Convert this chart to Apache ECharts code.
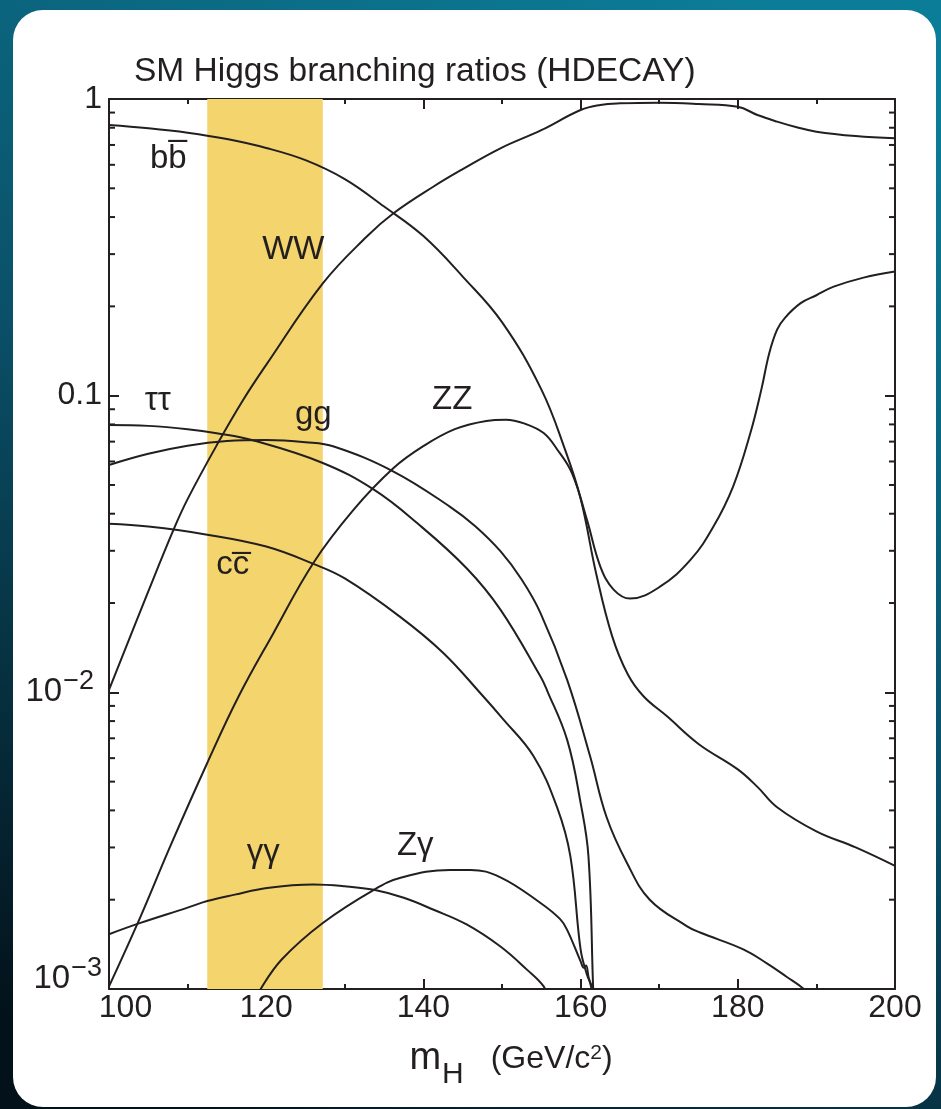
<!DOCTYPE html>
<html>
<head>
<meta charset="utf-8">
<script src="https://cdn.jsdelivr.net/npm/echarts@6/dist/echarts.min.js"></script>
<style>
html,body{margin:0;padding:0;background:#0a4f66;}
#chart{width:941px;height:1109px;}
</style>
</head>
<body>
<div id="chart"></div>
<script>
// ---- axis ranges & ticks ----
const xMin = 100, xMax = 200, xInterval = 20;
const yMin = 0.001, yMax = 1;
const yMinorTicks = [0.002,0.003,0.004,0.005,0.006,0.007,0.008,0.009,
                     0.02,0.03,0.04,0.05,0.06,0.07,0.08,0.09,
                     0.2,0.3,0.4,0.5,0.6,0.7,0.8,0.9];
// ---- highlighted mass window (yellow band) ----
const bandRange = [112.5, 127.2];

// ---- branching ratios [m_H (GeV), BR] ----
const bbData = [[100,0.817],[105,0.797],[110,0.770],[115,0.733],[120,0.684],[125,0.622],[130,0.537],[135,0.434],[140,0.345],[145,0.252],[150,0.177],[155,0.105],[158,0.066],[160,0.045],[162,0.025],[164,0.0155],[166,0.0115],[168,0.0097],[171,0.0083],[175,0.0067],[180,0.0055],[182.5,0.0048],[185,0.0041],[190,0.0034],[195,0.003],[200,0.0026]];
const wwData = [[100,0.0102],[105,0.0219],[108.2,0.0353],[110,0.0448],[113.7,0.068],[117.1,0.097],[120,0.127],[127.2,0.239],[132.8,0.344],[136.2,0.412],[141.3,0.507],[145,0.58],[149.8,0.682],[155,0.785],[160,0.918],[162.5,0.955],[165,0.967],[170,0.972],[175,0.962],[180,0.942],[182.5,0.883],[185,0.839],[187.5,0.803],[190,0.776],[195,0.75],[200,0.737]];
const zzData = [[100,0.00102],[104,0.00175],[107.8,0.00303],[112.5,0.00578],[116.5,0.0097],[120.9,0.0158],[126,0.0273],[131.1,0.0412],[136.2,0.057],[140,0.0676],[144,0.0771],[148,0.0822],[150.5,0.083],[153,0.0803],[155.3,0.0748],[157,0.066],[158.9,0.0548],[160.8,0.0382],[162.5,0.0266],[164.2,0.0222],[166.3,0.0207],[170.1,0.0227],[174,0.028],[176.9,0.0362],[179.4,0.0494],[181.6,0.0748],[183,0.105],[184,0.139],[185,0.167],[186,0.183],[188,0.205],[190,0.218],[192.2,0.233],[196,0.25],[200,0.262]];
const tautauData = [[100,0.0797],[105,0.0791],[110,0.0771],[113.7,0.0747],[118.4,0.0706],[127.2,0.0593],[133.7,0.0482],[139.2,0.0372],[145.5,0.0262],[149.8,0.019],[154.9,0.0113],[155.7,0.0102],[158.3,0.0069],[160,0.00424],[161,0.0028],[161.6,0.001],[161.7,0.0009]];
const ggData = [[100,0.0584],[105,0.0637],[110,0.0678],[115,0.0703],[120,0.0709],[125,0.0697],[128.6,0.0674],[136.2,0.0555],[143.4,0.0422],[146.6,0.0363],[149.8,0.0299],[152.5,0.024],[154.9,0.0185],[158.3,0.011],[161.2,0.0061],[163.3,0.0038],[165.9,0.00266],[168.8,0.002],[173.5,0.00163],[175.2,0.00155],[180.7,0.00136],[183.7,0.00122],[186.2,0.0011],[188.4,0.001],[189,0.00095]];
const ccData = [[100,0.037],[105,0.0362],[112.5,0.034],[120,0.031],[126,0.0271],[130,0.0242],[137,0.018],[142.5,0.0136],[147.6,0.0097],[150,0.0082],[154,0.0061],[157,0.0041],[158.7,0.0028],[160,0.00136],[160.8,0.00112],[161.5,0.001],[161.6,0.0009]];
const zgammaData = [[119.1,0.00095],[119.3,0.001],[122,0.00126],[127.2,0.00167],[133.7,0.00216],[137.1,0.00237],[143.4,0.00252],[146,0.00252],[149.8,0.00238],[154.9,0.00195],[157.4,0.00172],[158.3,0.00158],[160,0.00124],[160.4,0.00118],[160.7,0.0012],[161,0.0011],[161.4,0.001],[161.5,0.00095]];
const gammagammaData = [[100,0.00153],[104,0.00167],[110,0.00188],[112.5,0.00198],[116,0.00208],[120.1,0.00219],[126,0.00225],[130,0.00222],[133.7,0.00216],[137.5,0.00203],[141.3,0.00185],[145.5,0.00165],[149.8,0.00139],[153.2,0.00116],[155.3,0.00102],[155.6,0.00095]];

// ---- channel labels: text, mass, BR position ----
const labelTexts = ['b' + 'b\u0305', 'WW', '\u03c4\u03c4', 'gg', 'ZZ', 'c' + 'c\u0305', '\u03b3\u03b3', 'Z\u03b3'];
const labelMass  = [107.55, 123.45, 106.2, 126.0, 143.66, 115.76, 119.63, 138.96];
const labelBR    = [0.630, 0.309, 0.0957, 0.0858, 0.0964, 0.0268, 0.00287, 0.00303];

const titleText = 'SM Higgs branching ratios (HDECAY)';

const FONT = "'Liberation Sans', 'DejaVu Sans', sans-serif";
const INK = '#231f20';

const curves = [bbData, wwData, zzData, tautauData, ggData, ccData, zgammaData, gammagammaData];
const curveNames = ['bb', 'WW', 'ZZ', 'tautau', 'gg', 'cc', 'Zgamma', 'gammagamma'];

const chart = echarts.init(document.getElementById('chart'), null, {renderer: 'canvas'});

const axisLineStyle = {lineStyle: {color: INK, width: 2}};

const series = [];
// band
series.push({
  type: 'line', data: [], z: 1, silent: true,
  markArea: {silent: true, itemStyle: {color: '#f4d46c'}, data: [[{xAxis: bandRange[0]}, {xAxis: bandRange[1]}]]}
});
curves.forEach((d, i) => {
  series.push({
    name: curveNames[i], type: 'line', data: d, showSymbol: false, symbol: 'none',
    smooth: 0.4, clip: true, z: 3,
    lineStyle: {color: INK, width: 2}
  });
});
// minor ticks on log axes (left & right), through the scales
series.push({
  type: 'custom', z: 4, silent: true, clip: false,
  data: yMinorTicks.map(v => [xMin, v]),
  renderItem: function (params, api) {
    const v = api.value(1);
    const p = api.coord([xMin, v]);
    const q = api.coord([xMax, v]);
    return {type: 'group', children: [
      {type: 'line', shape: {x1: p[0], y1: p[1], x2: p[0] + 6, y2: p[1]}, style: {stroke: INK, lineWidth: 2}},
      {type: 'line', shape: {x1: q[0] - 6, y1: q[1], x2: q[0], y2: q[1]}, style: {stroke: INK, lineWidth: 2}}
    ]};
  }
});
// labels
series.push({
  type: 'scatter', z: 5, silent: true, symbolSize: 0,
  itemStyle: {opacity: 1},
  data: labelTexts.map((t, i) => ({value: [labelMass[i], labelBR[i]], name: t})),
  label: {show: true, position: 'inside', formatter: p => p.name, color: INK, opacity: 1,
    fontSize: 33, fontFamily: FONT, align: 'center', verticalAlign: 'middle'}
});

function yLabel(v) {
  const e = Math.round(Math.log10(v));
  if (e === 0) return '1';
  if (e === -1) return '0.1';
  if (e === -2) return '{a|10}{s|\u22122}';
  return '{a3|10}{s3|\u22123}';
}

const option = {
  backgroundColor: {type: 'linear', x: 0.8, y: 0, x2: 0.2, y2: 1,
    colorStops: [{offset: 0, color: '#0c7d98'}, {offset: 0.5, color: '#0a5068'}, {offset: 1, color: '#03121a'}]},
  animation: false,
  graphic: [{type: 'rect', z: -10, silent: true, shape: {x: 13, y: 10, width: 923, height: 1097, r: 30}, style: {fill: '#ffffff'}}],
  title: {text: titleText, left: 129, top: 50,
    textStyle: {fontFamily: FONT, fontSize: 33.5, fontWeight: 'normal', color: INK}},
  grid: {left: 109, right: 46, top: 99, bottom: 120},
  xAxis: [{
    type: 'value', position: 'bottom', min: xMin, max: xMax, interval: xInterval,
    axisLine: axisLineStyle, splitLine: {show: false},
    axisTick: {inside: true, length: 10, lineStyle: {color: INK, width: 2}},
    minorTick: {show: true, splitNumber: 2, length: 5, lineStyle: {color: INK, width: 2}},
    axisLabel: {margin: 3, color: INK, fontFamily: FONT, fontSize: 32,
      formatter: v => v === xMin ? '{f|' + v + '}' : String(v),
      rich: {f: {fontFamily: FONT, fontSize: 32, color: INK, padding: [0, 0, 0, 33]}}},
    name: '{m|m}{h|H}{p|(GeV/c}{u|2}{p|)}', nameLocation: 'middle', nameGap: 39,
    nameTextStyle: {fontFamily: FONT, color: INK, padding: [0, 0, 0, 18],
      rich: {
        m: {fontFamily: FONT, fontSize: 38, color: INK},
        h: {fontFamily: FONT, fontSize: 30, color: INK, padding: [32, 27, 0, 1]},
        p: {fontFamily: FONT, fontSize: 32, color: INK},
        u: {fontFamily: FONT, fontSize: 21, color: INK, padding: [0, 0, 12, 0]}
      }}
  }, {
    type: 'value', position: 'top', min: xMin, max: xMax, interval: xInterval,
    axisLine: axisLineStyle, splitLine: {show: false}, axisLabel: {show: false},
    axisTick: {inside: true, length: 10, lineStyle: {color: INK, width: 2}},
    minorTick: {show: true, splitNumber: 2, length: 5, lineStyle: {color: INK, width: 2}}
  }],
  yAxis: [{
    type: 'log', logBase: 10, min: yMin, max: yMax, position: 'left',
    axisLine: axisLineStyle, splitLine: {show: false},
    axisTick: {inside: true, length: 10, lineStyle: {color: INK, width: 2}},
    axisLabel: {margin: 7, color: INK, fontFamily: FONT, fontSize: 32, formatter: yLabel,
      rich: {
        a: {fontFamily: FONT, fontSize: 33, color: INK},
        s: {fontFamily: FONT, fontSize: 27, color: INK, padding: [0, 8, 22, 1]},
        a3: {fontFamily: FONT, fontSize: 33, color: INK, padding: [0, 0, 20, 0]},
        s3: {fontFamily: FONT, fontSize: 27, color: INK, padding: [0, 0, 40, 1]}
      }}
  }, {
    type: 'log', logBase: 10, min: yMin, max: yMax, position: 'right',
    axisLine: axisLineStyle, splitLine: {show: false}, axisLabel: {show: false},
    axisTick: {inside: true, length: 10, lineStyle: {color: INK, width: 2}}
  }],
  series: series
};
chart.setOption(option);
</script>
</body>
</html>
